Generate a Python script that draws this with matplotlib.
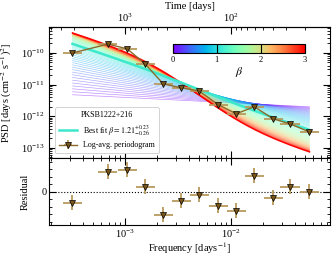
import math
import numpy as np
import matplotlib
matplotlib.use('Agg')
import matplotlib.pyplot as plt
from matplotlib import cm, colors
from matplotlib.lines import Line2D
from matplotlib.ticker import LogLocator, MultipleLocator, NullFormatter, NullLocator, FixedLocator

plt.rcParams['font.family'] = 'serif'
plt.rcParams['font.serif'] = ['Liberation Serif', 'DejaVu Serif']
plt.rcParams['mathtext.fontset'] = 'stix'
plt.rcParams['xtick.direction'] = 'in'
plt.rcParams['ytick.direction'] = 'in'

# Log-averaged periodogram
freq = [3.2e-4, 6.9e-4, 1.05e-3, 1.55e-3, 2.3e-3, 3.4e-3, 5.0e-3,
        7.6e-3, 1.12e-2, 1.66e-2, 2.5e-2, 3.6e-2, 5.5e-2]
psd = [1.0e-10, 1.9e-10, 1.35e-10, 4.5e-11, 1.05e-11, 7.9e-12, 6.3e-12,
       2.3e-12, 1.2e-12, 2.0e-12, 8.3e-13, 5.75e-13, 3.2e-13]
residual = [-1.47, 2.67, 2.93, 0.67, -3.07, -1.2, -0.4,
            -1.87, -2.53, 2.13, -0.8, 0.67, 0.0]
freq_err_dex = 0.09
psd_err_dex = 0.05
residual_err = 1.0
time_ticks = [100, 1000]

# Simulated power-law models
beta_fit = 1.21
beta_up = 0.23
beta_lo = 0.26
beta_min, beta_max, n_beta = 0.0, 3.0, 61

source = 'PKSB1222+216'


def model_logpsd(u, beta):
    # log10 of the simulated log-avg. periodogram for slope beta
    uL, uR = u[0], u[-1]
    uc, sig = -2.3, 0.45
    cdf = np.vectorize(lambda x: 0.5 * (1 + math.erf((x - uc) / (sig * math.sqrt(2)))))
    h = -(cdf(u) - cdf(uL)) + (u - uL) * (cdf(uR) - cdf(uL)) / (uR - uL)
    a = -11.32 + 1.963 * np.tanh(beta / 1.05)
    s = -0.17 - 1.566 * np.tanh(beta / 1.5)
    t = 1.4 * (beta / 3.0) ** 2
    return a + s * (u - uL) + t * h


fig = plt.figure(figsize=(3.32, 2.57), dpi=100)
ax = fig.add_axes([0.149, 0.385, 0.845, 0.510])
axr = fig.add_axes([0.149, 0.125, 0.845, 0.2607], sharex=ax)

f = np.array(freq)
p = np.array(psd)
u = np.linspace(np.log10(f[0]), np.log10(f[-1]), 200)
fm = 10 ** u

norm = colors.Normalize(beta_min, beta_max)
cmap = cm.rainbow
for b in np.linspace(beta_min, beta_max, n_beta):
    if b == beta_max:
        ax.plot(fm, 10 ** model_logpsd(u, b), color=cmap(norm(b)), lw=1.1, zorder=2)
    else:
        ax.plot(fm, 10 ** model_logpsd(u, b), color=cmap(norm(b)), lw=0.5, alpha=0.45, zorder=1)

fit_color = '#3de8cc'
ax.plot(fm, 10 ** model_logpsd(u, beta_fit), color=fit_color, lw=1.8, zorder=3)

xerr = [f - f * 10 ** -freq_err_dex, f * 10 ** freq_err_dex - f]
yerr = [p - p * 10 ** -psd_err_dex, p * 10 ** psd_err_dex - p]
pstyle = dict(marker='v', ms=5, mfc='#7a5518', mec='k', mew=0.5,
              ecolor='#b89a5e', elinewidth=1.3, capsize=0)
eb = ax.errorbar(f, p, xerr=xerr, yerr=yerr, color='#8a6a2c', lw=1.0, zorder=4, **pstyle)

ax.set_xscale('log')
ax.set_yscale('log')
ax.set_xlim(10 ** -3.712, 10 ** -1.066)
ax.set_ylim(10 ** -13.32, 10 ** -9.18)
ax.set_ylabel(r'PSD [days (cm$^{-2}$ s$^{-1}$)$^2$]', fontsize=7.5)
ax.yaxis.set_label_coords(-0.125, 0.5)
ax.yaxis.set_major_locator(LogLocator(base=10, numticks=10))
ax.yaxis.set_minor_locator(LogLocator(base=10, subs=np.arange(2, 10), numticks=20))
ax.yaxis.set_minor_formatter(NullFormatter())
ax.tick_params(which='both', top=False, right=True, labelbottom=False, labelsize=7.5)
ax.tick_params(which='major', length=5, width=0.8)
ax.tick_params(which='minor', length=2.5, width=0.6)

inv = lambda x: 1.0 / np.asarray(x, dtype=float)
secax = ax.secondary_xaxis('top', functions=(inv, inv))
secax.xaxis.set_major_locator(FixedLocator(time_ticks))
secax.set_xlabel('Time [days]', fontsize=7.5, labelpad=2)
secax.tick_params(which='both', direction='in', labelsize=7.5, pad=2)
secax.tick_params(which='major', length=5, width=0.8)
secax.tick_params(which='minor', length=2.5, width=0.6)

leg = ax.legend([Line2D([], [], color=fit_color, lw=1.8), eb],
                [r'Best fit $\beta = %.2f^{+%.2f}_{-%.2f}$' % (beta_fit, beta_up, beta_lo),
                 'Log-avg. periodogram'],
                title=source, loc='lower left', bbox_to_anchor=(0.005, 0.005),
                fontsize=5.8, title_fontsize=5.8, handlelength=2.2,
                borderpad=0.5, labelspacing=0.45, framealpha=1)
leg.get_frame().set_edgecolor('#cccccc')
leg.get_frame().set_linewidth(0.6)

cax = ax.inset_axes([0.44, 0.80, 0.47, 0.069])
cb = fig.colorbar(cm.ScalarMappable(norm=norm, cmap=cmap), cax=cax, orientation='horizontal')
cb.set_ticks([0, 1, 2, 3])
cb.outline.set_linewidth(0.8)
cax.tick_params(direction='in', length=6.5, width=0.8, labelsize=6, pad=2)
cb.set_label(r'$\beta$', fontsize=8.5, labelpad=1)

# residual panel
axr.errorbar(f, residual, xerr=xerr, yerr=residual_err, fmt='none', zorder=3,
             ecolor='#b89a5e', elinewidth=1.3, capsize=0)
axr.plot(f, residual, 'v', ms=5, mfc='#7a5518', mec='k', mew=0.5, zorder=4)
axr.axhline(0, color='k', ls=':', lw=0.8)
axr.set_ylim(-4.4, 4.53)
axr.yaxis.set_major_locator(FixedLocator([0]))
axr.yaxis.set_minor_locator(MultipleLocator(1))
axr.set_ylabel('Residual', fontsize=7.5)
axr.yaxis.set_label_coords(-0.07, 0.5)
axr.set_xlabel(r'Frequency [days$^{-1}$]', fontsize=7.5, labelpad=0)
axr.tick_params(which='both', top=True, right=True, labelsize=7.5, pad=2)
axr.tick_params(which='major', length=5, width=0.8)
axr.tick_params(which='minor', length=2.5, width=0.6)

fig.savefig('out.png', dpi=100)
